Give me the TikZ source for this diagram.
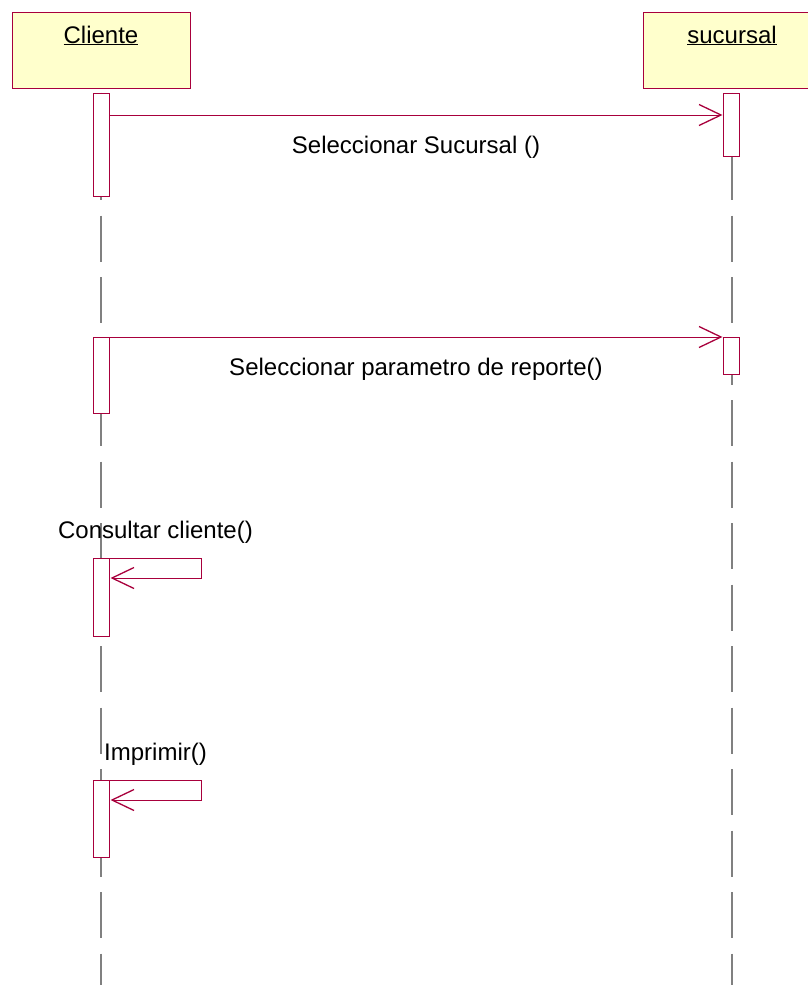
\documentclass[tikz,border=0pt]{standalone}
\usepackage{fontspec}
\setmainfont{Liberation Sans}
\usetikzlibrary{arrows.meta}
\definecolor{umlred}{RGB}{168,0,60}
\definecolor{umlyellow}{RGB}{255,255,204}
\definecolor{lifegray}{RGB}{128,128,128}
\tikzset{
  obj/.style={draw=umlred, fill=umlyellow, line width=1pt, minimum width=178pt,
    minimum height=76pt, inner sep=0pt, text height=17pt, text depth=31pt},
  act/.style={draw=umlred, fill=white, line width=1pt, minimum width=16pt,
    minimum height=#1, inner sep=0pt, anchor=north},
  lifeline/.style={draw=lifegray, line width=1.2pt, dash pattern=on 46pt off 15.5pt, dash phase=57.5pt},
  msg/.style={draw=umlred, line width=1pt, -{Straight Barb[length=22pt, width=21pt, line width=1.3pt]}},
  msglabel/.style={anchor=base, inner sep=0pt}
}
\begin{document}
\fontsize{24}{28}\selectfont
\begin{tikzpicture}[x=1pt, y=-1pt]
\useasboundingbox (0,0) rectangle (808,985);
% objects
\node[obj] (cliente) at (101,50) {\underline{Cliente}};
\node[obj] (sucursal) at (732,50) {\underline{sucursal}};
% lifelines
\coordinate (cend) at (101,985);
\coordinate (send) at (732,985);
\draw[lifeline] (cliente.south) -- (cend);
\draw[lifeline] (sucursal.south) -- (send);
% activations
\node[act=103pt] (ca1) at (101,93) {};
\node[act=63pt] (sa1) at (731,93) {};
\node[act=76pt] (ca2) at (101,337) {};
\node[act=37pt] (sa2) at (731,337) {};
\node[act=78pt] (ca3) at (101,558) {};
\node[act=77pt] (ca4) at (101,780) {};
% messages
\draw[msg] ([yshift=-22pt]ca1.north east) -- ([yshift=-22pt]sa1.north west)
  node[msglabel, midway, yshift=-38pt] {Seleccionar Sucursal ()};
\draw[msg] (ca2.north east) -- (sa2.north west)
  node[msglabel, midway, yshift=-38pt] {Seleccionar parametro de reporte()};
\draw[msg] (ca3.north east) -- ++(92,0)
  node[msglabel, midway, yshift=20pt] {Consultar cliente()} -- ++(0,20) -- ++(-91,0);
\draw[msg] (ca4.north east) -- ++(92,0)
  node[msglabel, midway, yshift=20pt] {Imprimir()} -- ++(0,20) -- ++(-91,0);
\end{tikzpicture}
\end{document}
